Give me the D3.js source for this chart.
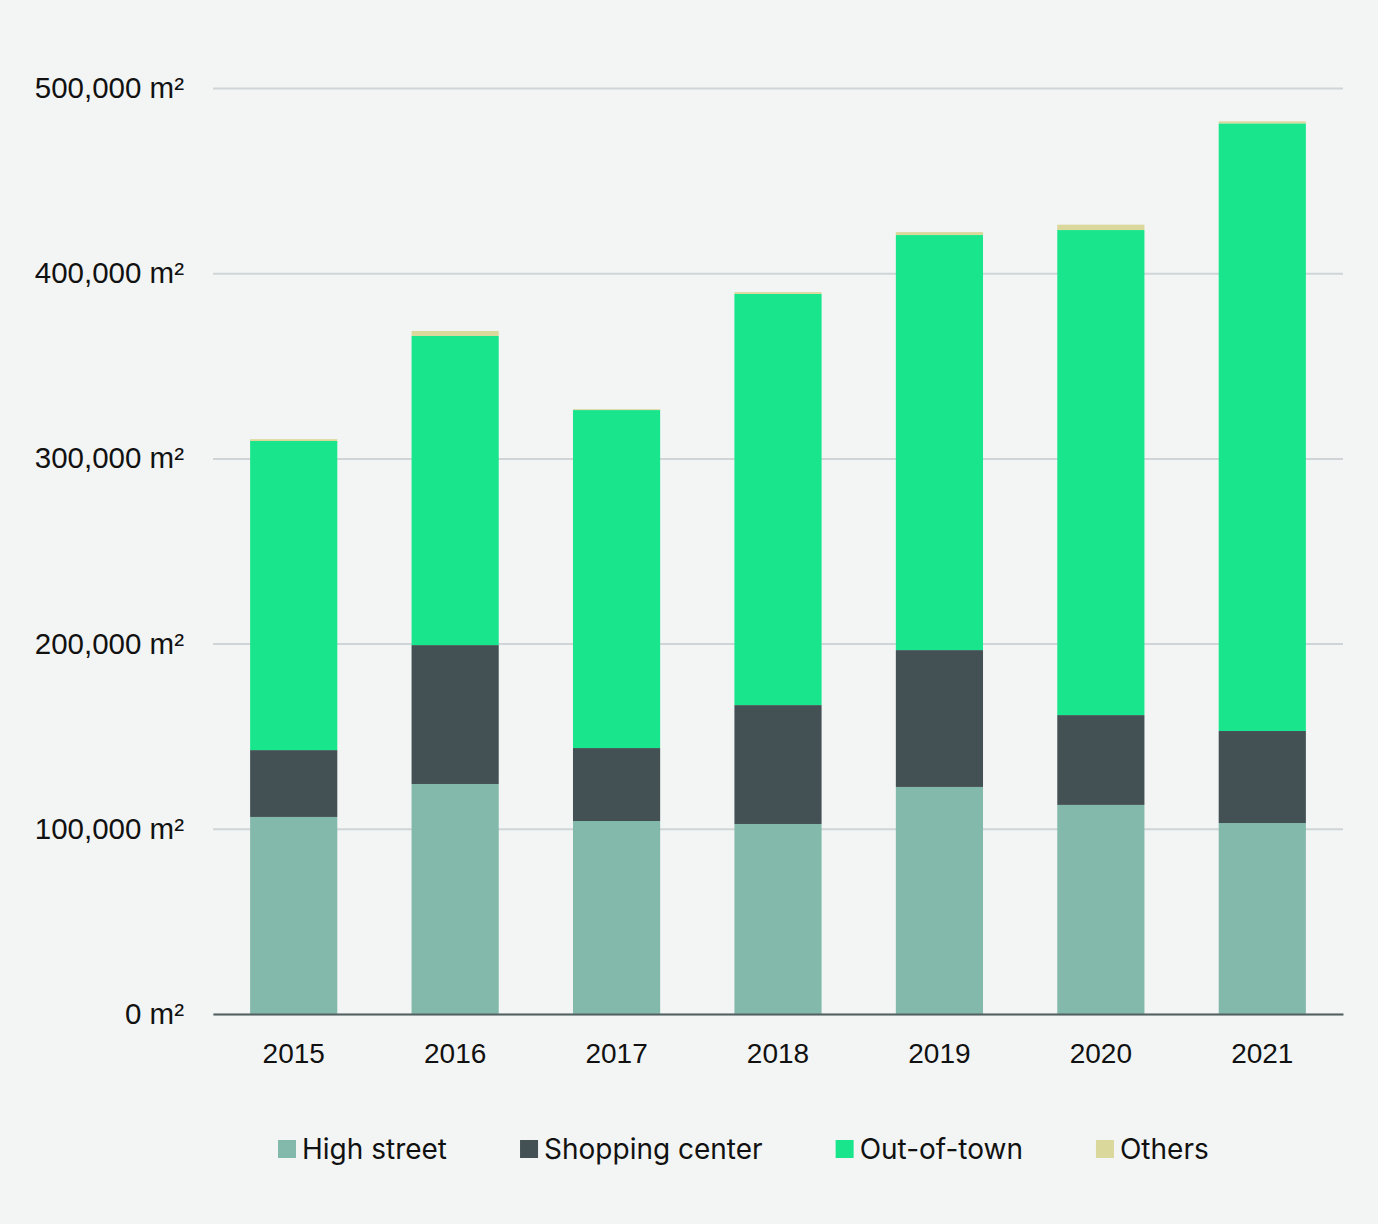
<!DOCTYPE html>
<html>
<head>
<meta charset="utf-8">
<script src="https://cdn.jsdelivr.net/npm/d3@7"></script>
<style>
  html, body { margin: 0; padding: 0; background: #f3f5f4; }
  svg { display: block; font-family: Inter, "Noto Sans", sans-serif; }
</style>
</head>
<body>
<svg id="chart" width="1378" height="1224"></svg>
<script>
// Retail take-up by location type, m² per year
const years = ["2015", "2016", "2017", "2018", "2019", "2020", "2021"];
const highStreet = [106400, 124200, 104200, 102600, 122600, 112900, 103100];
const shoppingCenter = [36100, 75000, 39400, 64200, 73900, 48500, 49700];
const outOfTown = [166900, 166900, 182500, 222000, 224100, 261900, 328100];
const others = [1000, 2700, 500, 1000, 1600, 2900, 1100];
const yTicks = [0, 100000, 200000, 300000, 400000, 500000];

const seriesNames = ["High street", "Shopping center", "Out-of-town", "Others"];
const seriesKeys = ["hs", "sc", "oot", "oth"];
const colors = ["#82b9ab", "#435155", "#19e68c", "#dbd89c"];

const rows = years.map((y, i) => ({
  year: y, hs: highStreet[i], sc: shoppingCenter[i], oot: outOfTown[i], oth: others[i]
}));

const svg = d3.select("#chart");
const W = 1378, H = 1224;
const margin = { left: 213, right: 35, top: 88, bottom: 210 };

svg.append("rect").attr("width", W).attr("height", H).attr("fill", "#f3f5f4");

const x = d3.scaleBand()
  .domain(years)
  .range([margin.left, W - margin.right])
  .paddingInner(0.46)
  .paddingOuter(0.23);

const y = d3.scaleLinear()
  .domain([0, 500000])
  .range([H - margin.bottom, margin.top]);

// Horizontal gridlines with tick labels
const yAxis = d3.axisLeft(y)
  .tickValues(yTicks)
  .tickSize(-(W - margin.left - margin.right))
  .tickPadding(28)
  .tickFormat(d => d3.format(",")(d) + " m²");

const gy = svg.append("g")
  .attr("transform", `translate(${margin.left},0)`)
  .call(yAxis);
gy.select(".domain").remove();
gy.selectAll(".tick line").attr("stroke", "#cfd5d7").attr("stroke-width", 2);
gy.selectAll(".tick text")
  .attr("fill", "#111")
  .attr("font-size", 29.5)
  .attr("x", -29);

// Stacked bars
const stack = d3.stack().keys(seriesKeys);
const layers = stack(rows);

svg.append("g").selectAll("g")
  .data(layers)
  .join("g")
  .attr("fill", (d, i) => colors[i])
  .selectAll("rect")
  .data(d => d)
  .join("rect")
  .attr("x", d => x(d.data.year))
  .attr("width", x.bandwidth())
  .attr("y", d => y(d[1]))
  .attr("height", d => y(d[0]) - y(d[1]));

// Baseline and year labels
const xAxis = d3.axisBottom(x).tickSize(0).tickPadding(29);
const gx = svg.append("g")
  .attr("transform", `translate(0,${y(0)})`)
  .call(xAxis);
gx.select(".domain").attr("stroke", "#52605f").attr("stroke-width", 2);
gx.selectAll(".tick text").attr("fill", "#111").attr("font-size", 28);

// Legend
const legend = svg.append("g").attr("transform", "translate(278,1149)");
let lx = 0;
seriesNames.forEach((name, i) => {
  const item = legend.append("g").attr("transform", `translate(${lx},0)`);
  item.append("rect")
    .attr("x", 0).attr("y", -9)
    .attr("width", 18).attr("height", 18)
    .attr("fill", colors[i]);
  const t = item.append("text")
    .attr("x", 24).attr("y", 0)
    .attr("dy", "0.35em")
    .attr("font-size", 28)
    .attr("fill", "#111")
    .text(name);
  const w = t.node().getComputedTextLength();
  lx += 24 + w + 73;
});
</script>
</body>
</html>
